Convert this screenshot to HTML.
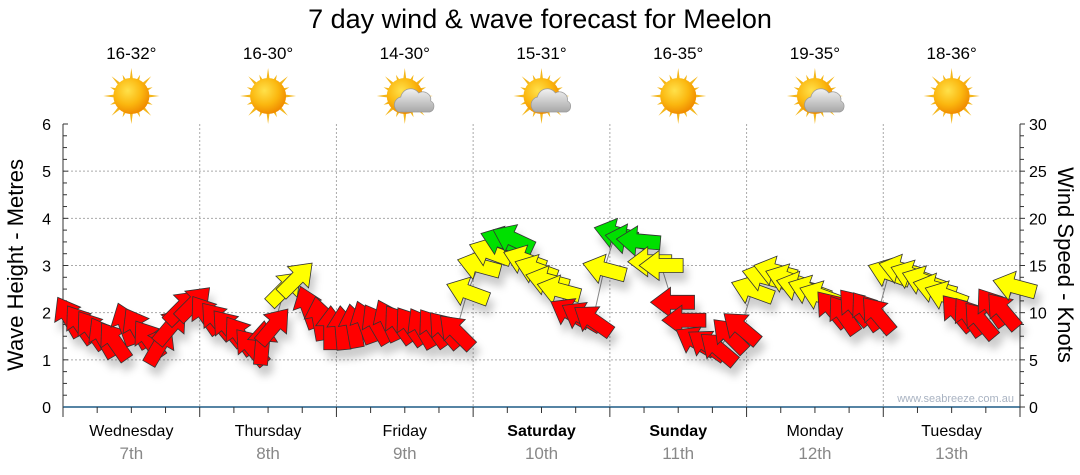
<!DOCTYPE html>
<html><head><meta charset="utf-8">
<style>
body{margin:0;background:#fff;}
svg{display:block;font-family:"Liberation Sans",sans-serif;}
</style></head>
<body>
<svg id="chart" width="1080" height="475" viewBox="0 0 1080 475">
<defs>
<filter id="sh" x="-50%" y="-50%" width="200%" height="200%"><feDropShadow dx="4" dy="9" stdDeviation="4" flood-color="#000" flood-opacity="0.2"/></filter>
<radialGradient id="sunG" cx="40%" cy="35%" r="65%"><stop offset="0" stop-color="#ffe14a"/><stop offset="0.6" stop-color="#fbb70f"/><stop offset="1" stop-color="#f08c00"/></radialGradient>
<linearGradient id="cloudG" x1="0" y1="0" x2="0" y2="1"><stop offset="0" stop-color="#f2f2f2"/><stop offset="1" stop-color="#a8a8a8"/></linearGradient>
</defs>
<text x="540" y="28" font-size="27" text-anchor="middle" fill="#000">7 day wind &amp; wave forecast for Meelon</text>
<g id="grid"></g>
<g id="axes"></g>
<g id="weather"></g>
<g id="series"></g>
<text transform="translate(23,265) rotate(-90)" font-size="22" text-anchor="middle">Wave Height - Metres</text>
<text transform="translate(1058,265) rotate(90)" font-size="22" text-anchor="middle">Wind Speed - Knots</text>
<text x="1014" y="402" font-size="11" text-anchor="end" fill="#a9b3c2">www.seabreeze.com.au</text>
</svg>
<script>
const days = ["Wednesday","Thursday","Friday","Saturday","Sunday","Monday","Tuesday"];
const dates = ["7th","8th","9th","10th","11th","12th","13th"];
const boldDays = [false,false,false,true,true,false,false];
const temps = ["16-32°","16-30°","14-30°","15-31°","16-35°","19-35°","18-36°"];
const cloudy = [false,false,true,true,false,true,false];
const waveTicks = [0,1,2,3,4,5,6];
const windTicks = [0,5,10,15,20,25,30];
const windSpeed = [
 9.6,8.8,8.2,7.4,7.0,8.8,8.4,7.2,6.6,8.6,10.6,11.0,
 9.8,9.2,8.4,7.6,6.4,6.8,8.6,12.6,13.6,10.6,9.4,8.4,
 8.4,8.6,9.0,8.8,9.2,8.8,8.6,8.4,8.4,8.2,8.0,12.2,
 15.0,16.4,17.6,17.8,15.6,14.6,13.4,12.4,10.0,9.6,9.2,14.6,
 18.4,17.8,17.6,15.4,15.0,11.1,9.2,7.0,6.6,6.2,7.6,8.4,
 12.4,13.8,14.4,13.6,12.8,12.4,11.8,10.4,9.8,10.6,10.2,9.8,
 14.2,14.6,14.0,13.4,12.6,11.8,10.0,9.6,9.2,10.6,10.2,12.8];
const windDir = [
 120,125,125,120,125,110,120,125,60,50,45,45,
 125,130,130,125,130,85,50,45,45,110,100,90,
 95,100,110,120,115,125,125,120,125,130,135,160,
 165,160,160,155,160,160,165,165,150,150,145,165,
 165,170,175,180,180,180,180,150,145,140,135,140,
 160,165,165,160,165,160,160,130,125,130,125,130,
 160,165,160,160,165,160,130,125,130,125,130,165];

const NS="http://www.w3.org/2000/svg";
const X0=63,X1=1020,Y0=407,Y1=124,DAYW=(X1-X0)/7,PER=12;
const yWave=v=>Y0-(v/6)*(Y0-Y1);
const yWind=v=>Y0-(v/30)*(Y0-Y1);
const xPt=i=>X0+(i+0.5)*DAYW/PER;
function mk(tag,attrs,parent){const e=document.createElementNS(NS,tag);for(const k in attrs)e.setAttribute(k,attrs[k]);parent.appendChild(e);return e;}
const grid=document.getElementById('grid'),axes=document.getElementById('axes'),weather=document.getElementById('weather'),series=document.getElementById('series');

waveTicks.forEach(v=>{
 if(v>0&&v<6){const l=mk('line',{x1:X0,x2:X1,y1:yWave(v),y2:yWave(v),stroke:'#aaa','stroke-dasharray':'2,2'},grid);
 
 }
 const t=mk('text',{x:51,y:yWave(v)+6,'font-size':16,'text-anchor':'end'},axes);t.textContent=v;
 
 
});
for(let q=0;q<=24;q++){const y=Y0-q*(Y0-Y1)/24;mk('line',{x1:X0,x2:X0+(q%4==0?5:4),y1:y,y2:y,stroke:'#333'},axes);mk('line',{x1:X1,x2:X1+(q%4==0?5:4),y1:y,y2:y,stroke:'#333'},axes);}
windTicks.forEach(v=>{const t=mk('text',{x:1029,y:yWind(v)+6,'font-size':16},axes);t.textContent=v;
 
 });
for(let d=1;d<7;d++){const x=X0+d*DAYW;const l=mk('line',{x1:x,x2:x,y1:Y1,y2:Y0,stroke:'#aaa','stroke-dasharray':'2,2'},grid);
 
 }
mk('line',{x1:X0,x2:X0,y1:Y1,y2:Y0,stroke:'#333'},axes);
mk('line',{x1:X1,x2:X1,y1:Y1,y2:Y0,stroke:'#333'},axes);
mk('line',{x1:X0,x2:X1,y1:Y0,y2:Y0,stroke:'#1f5b85','stroke-width':1.5},axes);
for(let q=0;q<=28;q++){const x=X0+q*DAYW/4;mk('line',{x1:x,x2:x,y1:Y0,y2:Y0+(q%4==0?10:6),stroke:'#333'},axes);}

days.forEach((d,i)=>{
 const cx=X0+(i+0.5)*DAYW;
 const t=mk('text',{x:cx,y:436,'font-size':16,'text-anchor':'middle','font-weight':boldDays[i]?'bold':'normal'},axes);t.textContent=d;
 
 
 const t2=mk('text',{x:cx,y:459,'font-size':17,'text-anchor':'middle',fill:'#888'},axes);t2.textContent=dates[i];
 
 
 const tt=mk('text',{x:cx,y:59,'font-size':17,'text-anchor':'middle'},weather);tt.textContent=temps[i];
 
 
 const g=mk('g',{transform:`translate(${cx},96)`},weather);
 
 
 for(let r=0;r<16;r++){const a=r*Math.PI/8,L=(r%2==0)?28:23;
  mk('polygon',{points:`${Math.cos(a-0.12)*15},${Math.sin(a-0.12)*15} ${Math.cos(a)*L},${Math.sin(a)*L} ${Math.cos(a+0.12)*15},${Math.sin(a+0.12)*15}`,fill:'#f4b61a'},g);}
 mk('circle',{r:18,fill:'url(#sunG)'},g);
 if(cloudy[i]){const c=mk('g',{transform:'translate(8,4)'},g);
  mk('path',{d:'M-14,12 a8,8 0 0 1 2,-15 a10,10 0 0 1 18,-4 a8,8 0 0 1 12,8 a6,6 0 0 1 -1,11 z',fill:'url(#cloudG)',stroke:'#999','stroke-width':0.7},c);}
});

const pts=windSpeed.map((v,i)=>[xPt(i),yWind(v)]);
const line=mk('polyline',{points:pts.map(p=>p.join(',')).join(' '),fill:'none',stroke:'#888','stroke-width':1},series);


const ag=mk('g',{filter:'url(#sh)'},series);
windSpeed.forEach((v,i)=>{
 const col=v>=17?'#00e000':(v>=11.5?'#ffff00':'#ff0000');
 const p=mk('polygon',{points:'-22,-7 2,-7 2,-15 22,0 2,15 2,7 -22,7',fill:col,stroke:'#333','stroke-width':0.8,'stroke-linejoin':'miter',
  transform:`translate(${pts[i][0]},${pts[i][1]}) rotate(${-windDir[i]})`},ag);
 
 
});
</script>
</body></html>
